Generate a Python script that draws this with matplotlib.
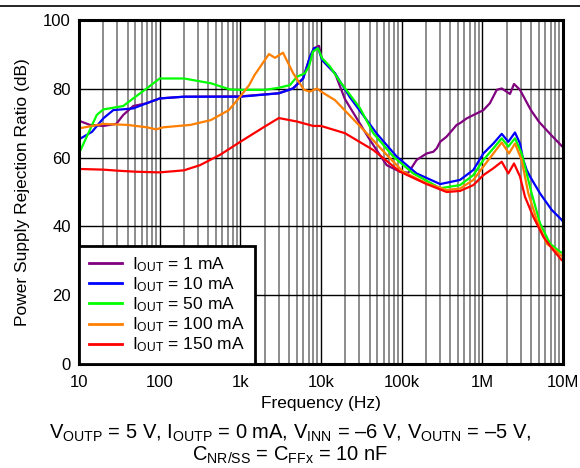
import matplotlib
matplotlib.use('Agg')
import matplotlib.pyplot as plt
from matplotlib.lines import Line2D
from matplotlib.ticker import FixedLocator, FixedFormatter, LogLocator, NullFormatter

plt.rcParams['font.family'] = 'Liberation Sans'
plt.rcParams['mathtext.fontset'] = 'custom'
plt.rcParams['mathtext.rm'] = 'Liberation Sans'
plt.rcParams['mathtext.it'] = 'Liberation Sans:italic'
plt.rcParams['mathtext.bf'] = 'Liberation Sans:bold'

# PSRR vs frequency, one curve per load current (Hz, dB)
f_1mA = [10, 13.7, 20, 29, 35.4, 47, 69, 100, 200, 1000, 3000, 4500, 6000, 7300, 8200, 9440,
         10300, 14900, 19800, 40500, 65200, 95300, 121000, 153000, 204000, 247000, 272000,
         300000, 361000, 481000, 528000, 640000, 1030000, 1240000, 1510000, 1740000, 2200000,
         2470000, 2930000, 4000000, 5040000, 7100000, 10000000]
psrr_1mA = [70.7, 69.5, 69.2, 69.8, 72.4, 75.0, 75.8, 77.2, 77.7, 77.8, 78.7, 80.1, 83.0, 89.3, 91.8, 92.5,
            88.4, 84.5, 77.0, 65.1, 57.8, 55.9, 55.6, 59.3, 61.2, 61.7, 62.7,
            64.6, 66.1, 69.5, 70.0, 71.4, 73.8, 75.8, 79.7, 80.1, 78.5,
            81.4, 79.7, 73.8, 70.4, 66.6, 63.0]

f_10mA = [10, 14.5, 20, 26.6, 47, 69, 100, 200, 1000, 3000, 4500, 6000, 7300, 8200, 9200,
          10300, 14900, 22900, 49000, 86700, 153000, 300000, 528000, 773000, 1030000, 1370000,
          1740000, 2100000, 2540000, 2930000, 3220000, 3550000, 3900000, 5190000, 7240000,
          9630000, 10000000]
psrr_10mA = [65.3, 67.5, 71.4, 73.8, 74.3, 75.8, 77.2, 77.7, 77.7, 78.7, 80.1, 83.0, 89.3, 91.8, 91.8,
             88.4, 84.5, 77.5, 67.0, 60.3, 55.4, 52.3, 53.5, 56.4, 61.2, 64.1,
             66.9, 64.6, 67.3, 64.1, 59.3, 56.4, 54.5, 49.6, 44.8,
             41.9, 41.4]

f_50mA = [10, 13, 16.6, 20, 26.6, 35.4, 47, 69, 100, 200, 432, 745, 1000, 2020, 3015, 4130,
          5040, 6310, 7090, 7950, 9180, 10300, 12900, 17200, 30400, 44500, 78700, 139000,
          300000, 528000, 773000, 1030000, 1370000, 1740000, 2100000, 2540000, 3070000,
          3220000, 4090000, 5190000, 6900000, 9180000, 10000000]
psrr_50mA = [61.2, 67.0, 72.4, 74.0, 74.5, 75.0, 77.2, 80.1, 83.0, 83.0, 81.6, 79.8, 79.7, 79.7, 80.3, 81.1,
             83.5, 84.5, 86.5, 90.8, 91.8, 88.9, 86.5, 82.1, 74.4, 67.1, 60.3, 55.4,
             51.1, 52.0, 54.9, 59.3, 62.7, 65.6, 63.2, 65.6, 61.2,
             59.3, 49.6, 40.9, 35.0, 32.6, 32.2]

f_100mA = [10, 20, 40, 70, 90, 110, 240, 430, 720, 1000, 1280, 1500, 2265, 2690, 3380, 4500,
           6150, 7300, 8920, 10000, 14900, 36800, 65200, 104000, 204000, 361000, 528000,
           773000, 1030000, 1370000, 1740000, 2140000, 2540000, 3070000, 3720000, 4720000,
           6280000, 7960000, 9630000, 10000000]
psrr_100mA = [68.5, 69.8, 69.5, 68.8, 68.2, 68.8, 69.5, 70.9, 73.8, 77.8, 81.0, 84.0, 90.1, 89.0, 90.5, 84.6,
              79.7, 79.2, 80.1, 79.2, 76.7, 67.1, 60.8, 55.9, 52.5, 50.6, 51.0,
              53.5, 57.4, 61.2, 64.4, 61.2, 64.1, 59.3, 49.6, 41.9,
              35.0, 33.1, 31.4, 31.0]

f_150mA = [10, 20, 30, 50, 100, 200, 316, 560, 1000, 2000, 3000, 5000, 8000, 10000, 19800,
           44500, 95300, 204000, 361000, 528000, 773000, 1030000, 1370000, 1740000, 2100000,
           2470000, 2930000, 3380000, 4280000, 5700000, 7580000, 9630000, 10000000]
psrr_150mA = [56.7, 56.5, 56.2, 55.9, 55.7, 56.3, 57.8, 60.8, 64.6, 69.0, 71.5, 70.5, 69.2, 69.2, 67.1,
              62.2, 55.9, 52.3, 50.0, 50.3, 52.0, 54.9, 56.9, 58.8, 55.4,
              58.3, 54.5, 48.6, 42.8, 37.0, 33.1, 30.2, 30.0]

labels = [r'I$_{\mathrm{OUT}}$ = 1 mA', r'I$_{\mathrm{OUT}}$ = 10 mA', r'I$_{\mathrm{OUT}}$ = 50 mA',
          r'I$_{\mathrm{OUT}}$ = 100 mA', r'I$_{\mathrm{OUT}}$ = 150 mA']
colors = ['#800080', '#0000FF', '#00FF00', '#FF7F00', '#FF0000']

xticks = [10, 100, 1e3, 1e4, 1e5, 1e6, 1e7]
xticklabels = ['10', '100', '1k', '10k', '100k', '1M', '10M']
yticks = [0, 20, 40, 60, 80, 100]

fig = plt.figure(figsize=(5.8, 4.68), dpi=100)
ax = fig.add_axes([79 / 580, 1 - 364 / 468, 484 / 580, 344 / 468])

curves = [(f_1mA, psrr_1mA), (f_10mA, psrr_10mA), (f_50mA, psrr_50mA),
          (f_100mA, psrr_100mA), (f_150mA, psrr_150mA)]
for (f, p), c, lab in zip(curves, colors, labels):
    ax.plot(f, p, color=c, lw=1.6, label=lab, solid_joinstyle='round')

ax.set_xscale('log')
ax.set_xlim(10, 1e7)
ax.set_ylim(0, 100)
ax.xaxis.set_major_locator(FixedLocator(xticks))
ax.xaxis.set_major_formatter(FixedFormatter(xticklabels))
ax.xaxis.set_minor_locator(LogLocator(base=10, subs=range(2, 10), numticks=20))
ax.xaxis.set_minor_formatter(NullFormatter())
ax.set_yticks(yticks)
ax.set_axisbelow(True)
ax.grid(which='major', axis='both', color='black', lw=1.0)
ax.grid(which='minor', axis='x', color='#6e6e6e', lw=1.1)
ax.tick_params(which='both', length=0, labelsize=12)
ax.tick_params(axis='x', pad=8)
ax.tick_params(axis='y', pad=6)
for s in ax.spines.values():
    s.set_linewidth(2.2)

ax.set_xlabel('Frequency (Hz)', fontsize=12.5, labelpad=4)
ax.set_ylabel('Power Supply Rejection Ratio (dB)', fontsize=12.5, labelpad=9)

leg = ax.legend(loc='lower left', bbox_to_anchor=(0, 0), borderaxespad=0, fontsize=12.5,
                fancybox=False, framealpha=1, edgecolor='black', handlelength=1.9,
                handletextpad=0.63, labelspacing=0.08, borderpad=0.55)
leg.get_frame().set_linewidth(2.0)
for h in leg.get_lines():
    h.set_linewidth(2.0)

fig.text(0.5, 1 - 433 / 468, r'V$_{\mathrm{OUTP}}$ = 5 V, I$_{\mathrm{OUTP}}$ = 0 mA, V$_{\mathrm{INN}}$ = –6 V, V$_{\mathrm{OUTN}}$ = –5 V,',
         ha='center', va='center', fontsize=14.5)
fig.text(0.5, 1 - 455 / 468, r'C$_{\mathrm{NR/SS}}$ = C$_{\mathrm{FFx}}$ = 10 nF',
         ha='center', va='center', fontsize=14.5)

# rule across the top of the figure
fig.add_artist(Line2D([0, 1], [1 - 6 / 468, 1 - 6 / 468], color='black', lw=1.2))

fig.savefig('out.png', dpi=100)
